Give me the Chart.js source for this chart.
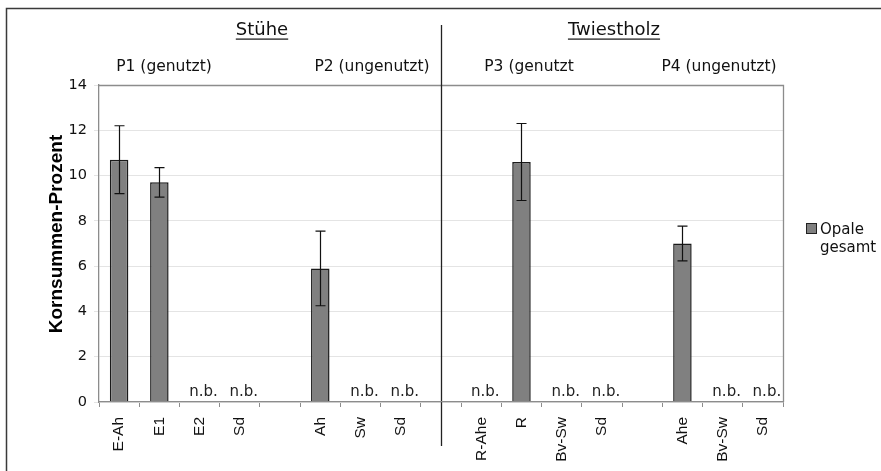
<!DOCTYPE html>
<html>
<head>
<meta charset="utf-8">
<script src="https://cdn.jsdelivr.net/npm/chart.js@4.4.1/dist/chart.umd.min.js"></script>
<style>
  html, body { margin: 0; padding: 0; background: #fff; }
  #wrap { width: 881px; height: 471px; position: relative; }
</style>
</head>
<body>
<div id="wrap"><canvas id="grafico"></canvas></div>
<script>
// Proben (leere Einträge = Lücke zwischen den Profilen)
const proben = ['E-Ah', 'E1', 'E2', 'Sd', '', 'Ah', 'Sw', 'Sd', '', 'R-Ahe', 'R', 'Bv-Sw', 'Sd', '', 'Ahe', 'Bv-Sw', 'Sd'];
// Opale gesamt (null = n.b. bzw. Lücke)
const opale = [10.7, 9.7, null, null, null, 5.9, null, null, null, null, 10.6, null, null, null, 7.0, null, null];
// Standardabweichung
const fehler = [1.5, 0.65, null, null, null, 1.65, null, null, null, null, 1.7, null, null, null, 0.77, null, null];
const yTicks = [0, 2, 4, 6, 8, 10, 12, 14];

const standorte = ['Stühe', 'Twiestholz'];
const profile = ['P1 (genutzt)', 'P2 (ungenutzt)', 'P3 (genutzt', 'P4 (ungenutzt)'];

const SANS = 'DejaVu Sans';
const ARIAL = 'Liberation Sans, Arial';

// Rahmen, Überschriften, Trennlinie, n.b., Fehlerbalken, Legende
const extras = {
    id: 'extras',
    afterDatasetsDraw(chart) {
        const c = chart.ctx;
        const x = chart.scales.x, y = chart.scales.y;
        const area = chart.chartArea;
        c.save();

        // Plotrahmen oben/rechts
        c.strokeStyle = '#8c8c8c';
        c.lineWidth = 1.3;
        c.beginPath();
        c.moveTo(area.left, area.top + 0.5);
        c.lineTo(area.right + 0.5, area.top + 0.5);
        c.lineTo(area.right + 0.5, area.bottom);
        c.stroke();

        // Fehlerbalken
        c.strokeStyle = '#111';
        c.lineWidth = 1.2;
        opale.forEach((v, i) => {
            if (v === null || fehler[i] === null) return;
            const px = Math.round(x.getPixelForValue(i)) + 0.5;
            const top = y.getPixelForValue(v + fehler[i]);
            const bot = y.getPixelForValue(v - fehler[i]);
            c.beginPath();
            c.moveTo(px, top); c.lineTo(px, bot);
            c.moveTo(px - 5, top); c.lineTo(px + 5, top);
            c.moveTo(px - 5, bot); c.lineTo(px + 5, bot);
            c.stroke();
        });

        // n.b.
        c.fillStyle = '#222';
        c.font = '15px ' + SANS;
        c.textAlign = 'center';
        c.textBaseline = 'alphabetic';
        proben.forEach((p, i) => {
            if (p !== '' && opale[i] === null) {
                c.fillText('n.b.', x.getPixelForValue(i) + 4, y.getPixelForValue(0) - 6);
            }
        });

        // Trennlinie zwischen Standorten
        const mid = Math.round(x.getPixelForValue(8)) + 0.5;
        c.strokeStyle = '#222';
        c.lineWidth = 1.3;
        c.beginPath();
        c.moveTo(mid, 25); c.lineTo(mid, 446);
        c.stroke();

        // Standortnamen (unterstrichen)
        c.font = '18px ' + SANS;
        c.fillStyle = '#111';
        [[standorte[0], 262], [standorte[1], 614]].forEach(([t, cx]) => {
            c.fillText(t, cx, 35);
            const w = c.measureText(t).width;
            c.fillRect(cx - w / 2, 38.5, w, 1.2);
        });

        // Profile
        c.font = '15.5px ' + SANS;
        [164, 372, 529, 719].forEach((cx, i) => c.fillText(profile[i], cx, 71));

        // Achsentitel
        c.save();
        c.translate(62, 234);
        c.rotate(-Math.PI / 2);
        c.font = 'bold 19px ' + ARIAL;
        c.fillStyle = '#000';
        c.fillText('Kornsummen-Prozent', 0, 0);
        c.restore();

        // Legende
        c.fillStyle = '#808080';
        c.fillRect(806, 223, 11, 11);
        c.strokeStyle = '#222';
        c.lineWidth = 1;
        c.strokeRect(806.5, 223.5, 10, 10);
        c.fillStyle = '#111';
        c.font = '15px ' + SANS;
        c.textAlign = 'left';
        const lbl = chart.data.datasets[0].label.split(' ');
        c.fillText(lbl[0], 820, 234);
        c.fillText(lbl[1], 820, 252);

        // äußerer Rahmen
        c.strokeStyle = '#3a3a3a';
        c.lineWidth = 1.5;
        c.beginPath();
        c.moveTo(6.5, 471); c.lineTo(6.5, 8.5); c.lineTo(881, 8.5);
        c.stroke();

        c.restore();
    }
};

new Chart(document.getElementById('grafico'), {
    type: 'bar',
    data: {
        labels: proben,
        datasets: [{
            label: 'Opale gesamt',
            data: opale,
            backgroundColor: '#808080',
            borderColor: '#1a1a1a',
            borderWidth: 1.5,
            borderSkipped: 'bottom',
            barPercentage: 0.46,
            categoryPercentage: 1
        }]
    },
    options: {
        responsive: true,
        maintainAspectRatio: false,
        animation: false,
        layout: { padding: { left: 0, top: 85, right: 98, bottom: 0 } },
        plugins: {
            legend: { display: false },
            tooltip: { enabled: false }
        },
        scales: {
            x: {
                offset: true,
                grid: { offset: true, drawOnChartArea: false, drawTicks: true, tickLength: 5, color: '#8c8c8c' },
                border: { color: '#8c8c8c', width: 1.3, z: 1 },
                ticks: {
                    autoSkip: false, maxRotation: 90, minRotation: 90, padding: 10,
                    color: '#111', font: { family: ARIAL, size: 15.5 }
                },
                afterFit(s) { s.height = 69; s.paddingLeft = 0; s.paddingRight = 0; }
            },
            y: {
                min: 0, max: 14,
                afterBuildTicks(s) { s.ticks = yTicks.map(v => ({ value: v })); },
                grid: { color: '#e4e4e4', tickLength: 5, drawTicks: true },
                border: { color: '#8c8c8c', width: 1.3 },
                ticks: { padding: 7, color: '#111', font: { family: SANS, size: 14.5 } },
                afterFit(s) { s.width = 99; s.paddingTop = 0; s.paddingBottom = 0; }
            }
        }
    },
    plugins: [extras]
});
</script>
</body>
</html>
